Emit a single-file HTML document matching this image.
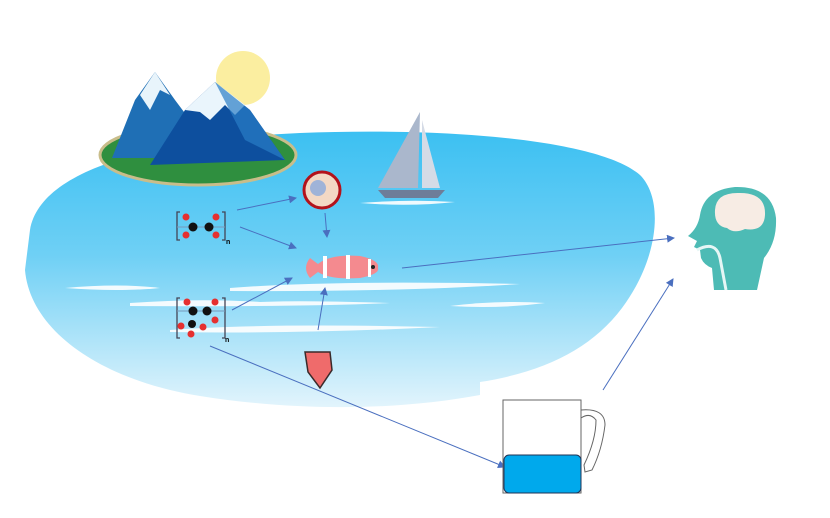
<!DOCTYPE html>
<html><head><style>body{margin:0;background:#fff}svg{display:block}</style></head><body>
<svg width="830" height="518" viewBox="0 0 830 518" xmlns="http://www.w3.org/2000/svg">
<defs>
<linearGradient id="sea" x1="0" y1="0" x2="0" y2="1">
<stop offset="0" stop-color="#3cc0f2"/><stop offset="0.45" stop-color="#6fd0f5"/><stop offset="1" stop-color="#e2f4fc"/></linearGradient>
<marker id="ar" markerWidth="8" markerHeight="8" refX="7" refY="4" orient="auto" markerUnits="userSpaceOnUse"><path d="M0,0 L8,4 L0,8 Z" fill="#4a6fbf"/></marker>
</defs>
<path d="M30 230 C40 170,150 140,300 133 C450 127,600 140,640 175 C665 200,658 260,622 308 C592 348,545 372,480 382 L480 395 C400 410,300 412,200 396 C100 380,30 330,25 270 Z" fill="url(#sea)"/>
<g fill="#fff" opacity="0.9">
<path d="M65 288 Q120 283 160 288 Q120 292 65 288Z"/>
<path d="M230 288 Q330 280 520 284 Q400 292 230 291Z"/>
<path d="M130 303 Q200 298 260 302 Q300 300 390 303 Q300 307 130 306Z"/>
<path d="M450 306 Q500 300 545 303 Q500 309 450 306Z"/>
<path d="M170 330 Q260 323 440 327 Q300 334 170 332Z"/>
<path d="M360 203 Q410 199 455 202 Q410 207 360 203Z"/>
</g>
<circle cx="243" cy="78" r="27" fill="#fbeea0"/>
<ellipse cx="198" cy="155" rx="98" ry="30" fill="#2f8f3f" stroke="#c9bd8a" stroke-width="3"/>
<path d="M112 158 L135 100 L155 72 L175 100 L190 120 L175 158Z" fill="#1f6fb5"/>
<path d="M140 95 L155 72 L170 95 L160 90 L150 110Z" fill="#e8f4fb"/>
<path d="M150 165 L185 110 L215 82 L250 110 L285 160Z" fill="#0d4f9e"/>
<path d="M185 110 L215 82 L245 105 L235 115 L225 105 L210 120 L200 112Z" fill="#eaf5fc"/>
<path d="M215 82 L250 110 L285 160 L245 140Z" fill="#2a7ec6" opacity="0.7"/>
<path d="M420 112 L418 188 L378 188Z" fill="#aab7cc"/>
<path d="M422 120 L440 188 L422 188Z" fill="#d5dbe6"/>
<path d="M378 190 L445 190 L438 198 L385 198Z" fill="#6e7d99"/>
<circle cx="322" cy="190" r="18" fill="#f3d8c4" stroke="#b3121b" stroke-width="3"/>
<circle cx="318" cy="188" r="8" fill="#9fb3d8"/>
<g transform="translate(340,268)">
<path d="M-30 -10 Q-38 0 -30 10 L-22 4 Q-10 12 20 10 Q40 6 38 0 Q40 -8 20 -12 Q-10 -14 -22 -4Z" fill="#f48a8f"/>
<rect x="-17" y="-12" width="4" height="22" fill="#fff"/><rect x="6" y="-13" width="4" height="24" fill="#fff"/><rect x="28" y="-9" width="3" height="18" fill="#fff"/>
<circle cx="33" cy="-1" r="2" fill="#222"/>
</g>
<path d="M305 352 L330 352 L332 370 L320 388 L308 372Z" fill="#ef6b6b" stroke="#3a2a2a" stroke-width="1.5"/>
<g fill="none" stroke="#445" stroke-width="1.3">
<path d="M180 212 L177 212 L177 240 L180 240"/><path d="M222 212 L225 212 L225 240 L222 240"/>
<path d="M180 298 L177 298 L177 338 L180 338"/><path d="M222 298 L225 298 L225 338 L222 338"/>
</g>
<line x1="177" y1="227" x2="225" y2="227" stroke="#7799bb"/>
<circle cx="193" cy="227" r="4.5" fill="#111"/><circle cx="209" cy="227" r="4.5" fill="#111"/>
<g fill="#e53030"><circle cx="186" cy="217" r="3.5"/><circle cx="216" cy="217" r="3.5"/><circle cx="186" cy="235" r="3.5"/><circle cx="216" cy="235" r="3.5"/>
<circle cx="187" cy="302" r="3.5"/><circle cx="215" cy="302" r="3.5"/><circle cx="215" cy="320" r="3.5"/><circle cx="181" cy="326" r="3.5"/><circle cx="203" cy="327" r="3.5"/><circle cx="191" cy="334" r="3.5"/></g>
<line x1="177" y1="311" x2="225" y2="311" stroke="#7799bb"/>
<circle cx="193" cy="311" r="4.5" fill="#111"/><circle cx="207" cy="311" r="4.5" fill="#111"/><circle cx="192" cy="324" r="4" fill="#111"/>
<text x="226" y="244" font-family="Liberation Sans" font-size="7" font-weight="bold">n</text>
<text x="225" y="342" font-family="Liberation Sans" font-size="7" font-weight="bold">n</text>
<g stroke="#4a6fbf" stroke-width="1" marker-end="url(#ar)">
<line x1="237" y1="210" x2="296" y2="198"/>
<line x1="240" y1="227" x2="296" y2="248"/>
<line x1="325" y1="213" x2="327" y2="237"/>
<line x1="232" y1="310" x2="292" y2="278"/>
<line x1="318" y1="330" x2="325" y2="288"/>
<line x1="210" y1="346" x2="505" y2="467"/>
<line x1="402" y1="268" x2="674" y2="238"/>
<line x1="603" y1="390" x2="673" y2="279"/>
</g>
<rect x="503" y="400" width="78" height="93" fill="#fff" stroke="#666" stroke-width="1"/>
<path d="M581 410 Q605 408 605 425 Q602 450 592 470 L585 472 L584 465 Q596 440 596 420 Q590 412 581 418" fill="none" stroke="#666"/>
<rect x="504" y="455" width="77" height="38" rx="5" fill="#00a9ec" stroke="#235" stroke-width="1"/>
<path d="M714 290 L712 268 Q704 265 701 258 L700 250 L694 247 L697 241 L688 236 Q698 228 700 215 Q704 190 735 187 Q772 186 776 218 Q777 242 764 258 L757 290Z" fill="#4dbbb5"/>
<path d="M715 210 Q716 192 740 193 Q766 193 765 215 Q764 232 745 229 Q734 234 727 228 Q714 226 715 210Z" fill="#f7ece4"/>
<path d="M697 250 Q716 240 720 258 L726 290" fill="none" stroke="#e6f6f5" stroke-width="3"/>
<rect x="480" y="383" width="20" height="14" fill="#fff"/>
</svg>
</body></html>
